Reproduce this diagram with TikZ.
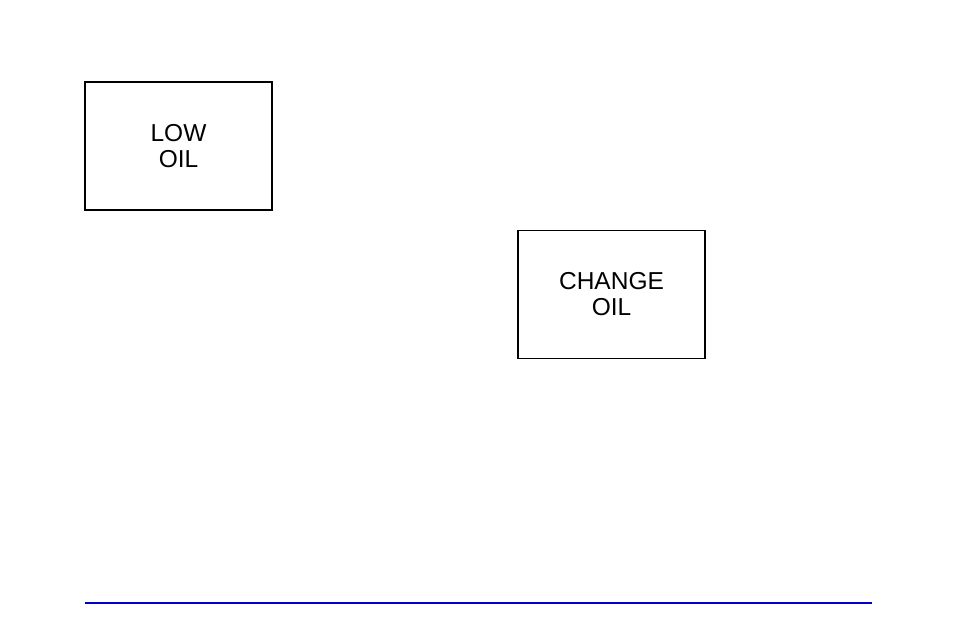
\documentclass[tikz,border=0pt]{standalone}
\usepackage{fontspec}
\setmainfont{Liberation Sans}
\begin{document}
\begin{tikzpicture}[x=1pt,y=-1pt,
  lamp/.style={draw=black,line width=1.2pt,minimum width=187pt,minimum height=128pt,align=center,font=\fontsize{24.5}{26}\selectfont,inner sep=0pt}]
\useasboundingbox (0,0) rectangle (954,636);
\node[lamp] (low) at (178.5,146) {LOW\\OIL};
\node[lamp] (change) at (611.5,294.5) {CHANGE\\OIL};
\coordinate (la) at (85,603);
\coordinate (lb) at (872,603);
\draw[blue!80!black,line width=1.5pt] (la) -- (lb);
\end{tikzpicture}
\end{document}
